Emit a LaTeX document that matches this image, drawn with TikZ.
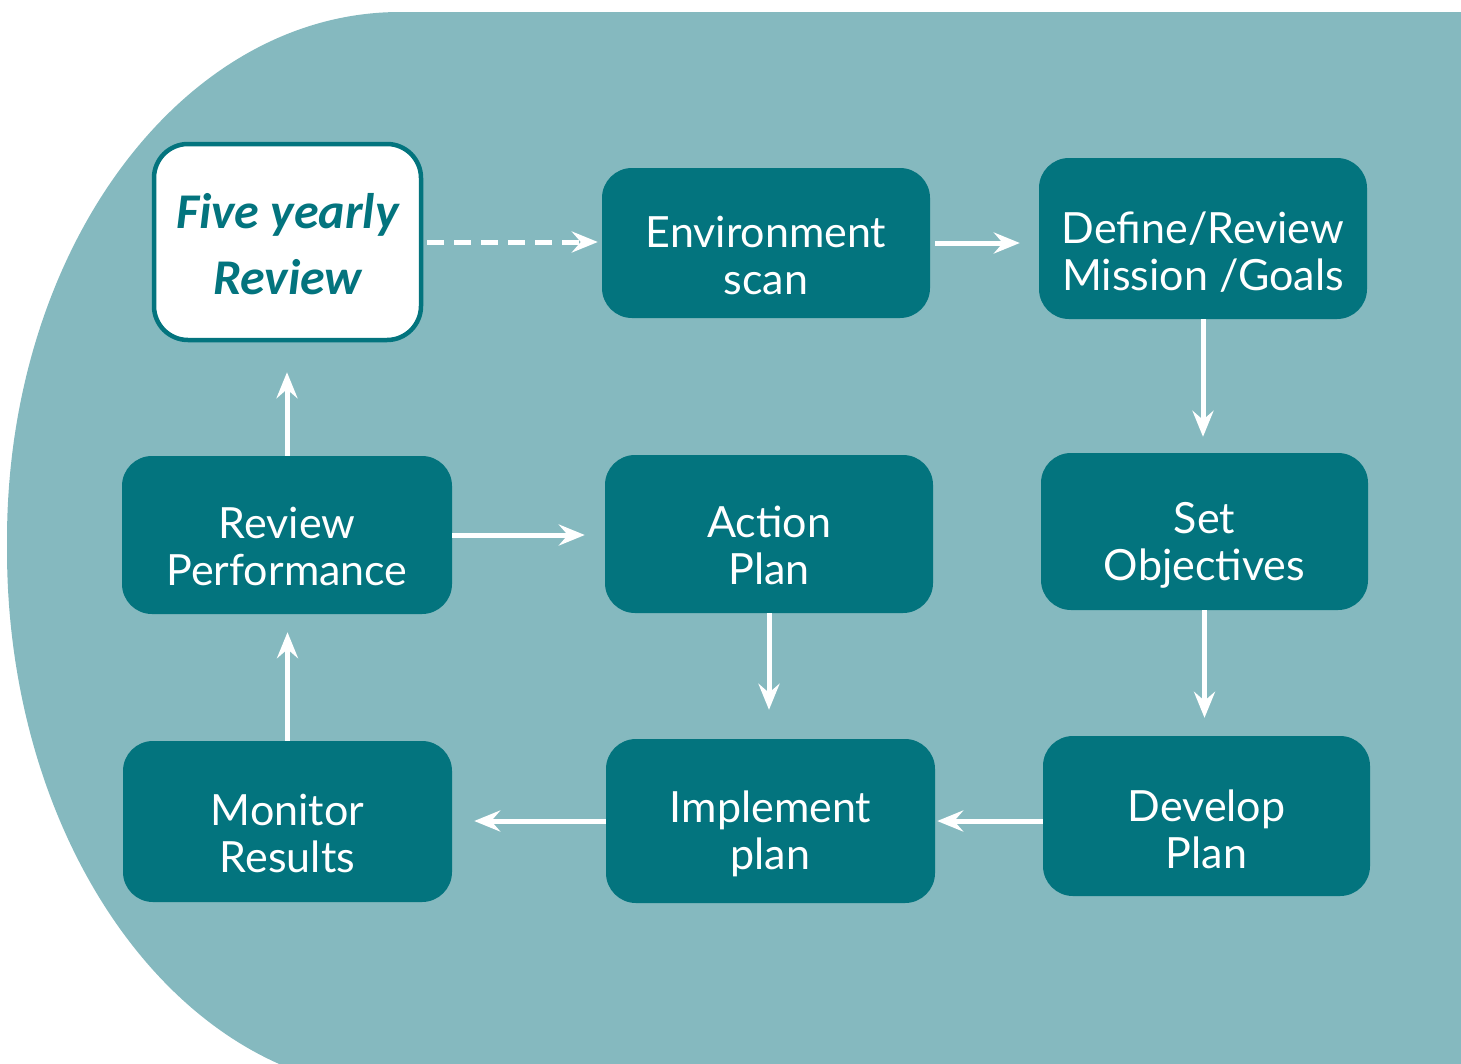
\documentclass[tikz,border=0pt]{standalone}
\usepackage{fontspec}
\setmainfont{Lato}
\newfontfamily\carl{Carlito}
\usetikzlibrary{arrows.meta}
\definecolor{bgteal}{HTML}{85B9BF}
\definecolor{dteal}{HTML}{03747E}
\begin{document}
\begin{tikzpicture}[x=1pt,y=-1pt,
  box/.style={fill=dteal, rounded corners=30pt, inner sep=0pt},
  txt/.style={text=white, align=center, font=\fontsize{43}{47}\selectfont, inner sep=0pt},
  arr/.style={draw=white, line width=5pt, -{Stealth[length=26pt,width=21pt,inset=9pt]}}]
\clip (0,0) rectangle (1461,1063);
\fill[bgteal] (1470,12) -- (400,12) .. controls (183,12) and (7,248) .. (7,540)
  -- (7,550) .. controls (7,848) and (183,1090) .. (400,1090) -- (1470,1090) -- cycle;

\node[box, fill=white, draw=dteal, line width=4.5pt, rounded corners=34pt,
  minimum width=267pt, minimum height=196pt] (five) at (287.5,242) {};
\node[txt, text=dteal, font=\carl\bfseries\itshape\fontsize{50}{66}\selectfont]
  (fivet) at ([yshift=-2pt]five.center) {Five yearly\\Review};

\node[box, minimum width=328pt, minimum height=150pt] (env) at (766,243) {};
\node[box, minimum width=328pt, minimum height=161pt] (def) at (1203,238.5) {};
\node[box, minimum width=327pt, minimum height=157pt] (set) at (1204.5,531.5) {};
\node[box, minimum width=330pt, minimum height=158pt] (revp) at (287,535) {};
\node[box, minimum width=328pt, minimum height=158pt] (act) at (769,534) {};
\node[box, minimum width=329pt, minimum height=161pt] (mon) at (287.5,821.5) {};
\node[box, minimum width=329pt, minimum height=164pt] (imp) at (770.5,821) {};
\node[box, minimum width=327pt, minimum height=160pt] (dev) at (1206.5,816) {};

\node[txt] (envt) at ([yshift=-12pt]env.center) {Environment\\scan};
\node[txt] (deft) at ([yshift=-14pt]def.center) {Define/Review\\Mission /Goals};
\node[txt] (sett) at ([yshift=-14pt]set.center) {Set\\Objectives};
\node[txt] (revpt) at ([yshift=-11pt]revp.center) {Review\\Performance};
\node[txt] (actt) at ([yshift=-11pt]act.center) {Action\\Plan};
\node[txt] (mont) at ([yshift=-12pt]mon.center) {Monitor\\Results};
\node[txt] (impt) at ([yshift=-13pt]imp.center) {Implement\\plan};
\node[txt] (devt) at ([yshift=-13pt]dev.center) {Develop\\Plan};

\draw[arr, dash pattern=on 17pt off 10pt, shorten <=4pt, shorten >=4pt] (five.east) -- (five.east -| env.west);
\draw[arr, shorten <=5pt, shorten >=19pt] (env.east) -- (env.east -| def.west);
\draw[arr, shorten >=16pt] (def.south) -- (def.south |- set.north);
\draw[arr, shorten >=18pt] (set.south) -- (set.south |- dev.north);
\draw[arr, shorten >=2pt] (dev.west |- imp.east) -- (imp.east);
\draw[arr, shorten >=22pt] (imp.west) -- (imp.west -| mon.east);
\draw[arr, shorten >=18pt] (mon.north) -- (mon.north |- revp.south);
\draw[arr, shorten >=30pt] (revp.north) -- (revp.north |- five.south);
\draw[arr, shorten >=20pt] (revp.east) -- (revp.east -| act.west);
\draw[arr, shorten >=29pt] (act.south) -- (act.south |- imp.north);
\end{tikzpicture}
\end{document}
